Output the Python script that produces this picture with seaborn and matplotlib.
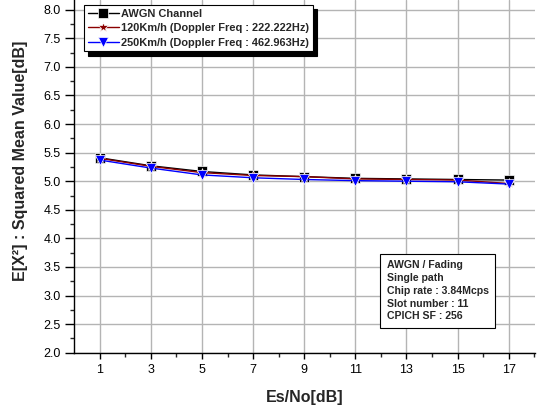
import numpy as np
import pandas as pd
import matplotlib
matplotlib.use("Agg")
import matplotlib.pyplot as plt
import seaborn as sns
from matplotlib.ticker import FixedLocator

esno = [1, 3, 5, 7, 9, 11, 13, 15, 17]
awgn = [5.41, 5.27, 5.17, 5.11, 5.08, 5.05, 5.04, 5.03, 5.02]
kmh120 = [5.40, 5.26, 5.15, 5.10, 5.08, 5.04, 5.03, 5.02, 4.96]
kmh250 = [5.37, 5.23, 5.11, 5.06, 5.03, 5.01, 5.00, 4.99, 4.95]
series_names = ["AWGN Channel",
                "120Km/h (Doppler Freq : 222.222Hz)",
                "250Km/h (Doppler Freq : 462.963Hz)"]
x_ticks = [1, 3, 5, 7, 9, 11, 13, 15, 17]
y_ticks = [2.0, 2.5, 3.0, 3.5, 4.0, 4.5, 5.0, 5.5, 6.0, 6.5, 7.0, 7.5, 8.0]
info_lines = ["AWGN / Fading", "Single path", "Chip rate : 3.84Mcps",
              "Slot number : 11", "CPICH SF : 256"]

sns.set_style("white")
plt.rcParams['font.family'] = ['Liberation Sans', 'DejaVu Sans']

df = pd.DataFrame({
    "x": esno * 3,
    "y": awgn + kmh120 + kmh250,
    "series": [series_names[0]] * len(esno) + [series_names[1]] * len(esno) + [series_names[2]] * len(esno),
})

fig = plt.figure(figsize=(5.42, 4.13), dpi=100)
ax = fig.add_axes([0.137, 0.146, 0.851, 0.854])

palette = {series_names[0]: "black", series_names[1]: "#8b0000", series_names[2]: "blue"}
markers = {series_names[0]: "s", series_names[1]: "*", series_names[2]: "v"}
sns.lineplot(data=df, x="x", y="y", hue="series", style="series",
             palette=palette, markers=markers, dashes=False,
             markersize=7, linewidth=1.0, markeredgewidth=0.5, ax=ax, zorder=3)

ax.set_xlim(0, 18.05)
ax.set_ylim(2.0, 8.17)
ax.xaxis.set_major_locator(FixedLocator(x_ticks))
ax.xaxis.set_minor_locator(FixedLocator([2, 4, 6, 8, 10, 12, 14, 16, 18]))
ax.yaxis.set_major_locator(FixedLocator(y_ticks))
ax.yaxis.set_minor_locator(FixedLocator([v + 0.25 for v in y_ticks[:-1]]))
ax.set_xticklabels([str(v) for v in x_ticks])
ax.set_yticklabels([f"{v:.1f}" for v in y_ticks])

ax.grid(True, which="major", color="#b4b4b4", linewidth=1.0)
ax.set_axisbelow(True)
for s in ["top", "right"]:
    ax.spines[s].set_visible(False)
for s in ["left", "bottom"]:
    ax.spines[s].set_color("black")
    ax.spines[s].set_linewidth(1.0)

ax.tick_params(axis="y", which="major", direction="out", length=6.5, width=1,
               labelsize=9, colors="black", left=True, pad=3)
ax.tick_params(axis="y", which="minor", direction="out", length=3, width=1, left=True)
ax.tick_params(axis="x", which="major", direction="out", length=4, width=1,
               labelsize=9, colors="black", bottom=True, pad=4)
ax.tick_params(axis="x", which="minor", direction="out", length=3, width=1, bottom=True)

ax.set_xlabel("Es/No[dB]", fontsize=11.5, fontweight="bold", labelpad=10)
ax.set_ylabel("E[X²] : Squared Mean Value[dB]", fontsize=11.5, fontweight="bold")
ax.yaxis.set_label_coords(-0.100, 0.545)

leg = ax.legend(loc="upper left", bbox_to_anchor=(0.021, 0.986), fontsize=7.9,
                frameon=True, fancybox=False,
                shadow={"color": "black", "alpha": 1.0, "ox": 3, "oy": -3},
                edgecolor="black",
                framealpha=1, handlelength=2.8, borderpad=0.35, labelspacing=0.4,
                handletextpad=0.2, borderaxespad=0.0)
for t in leg.get_texts():
    t.set_fontweight("bold")
leg.get_frame().set_linewidth(0.8)

ax.text(0.677, 0.262, "\n".join(info_lines), transform=ax.transAxes,
        fontsize=7.6, fontweight="bold", va="top", ha="left", linespacing=1.35,
        bbox=dict(boxstyle="square,pad=0.6", facecolor="white", edgecolor="black",
                  linewidth=0.8), zorder=5)

fig.savefig("out.png", dpi=100)
